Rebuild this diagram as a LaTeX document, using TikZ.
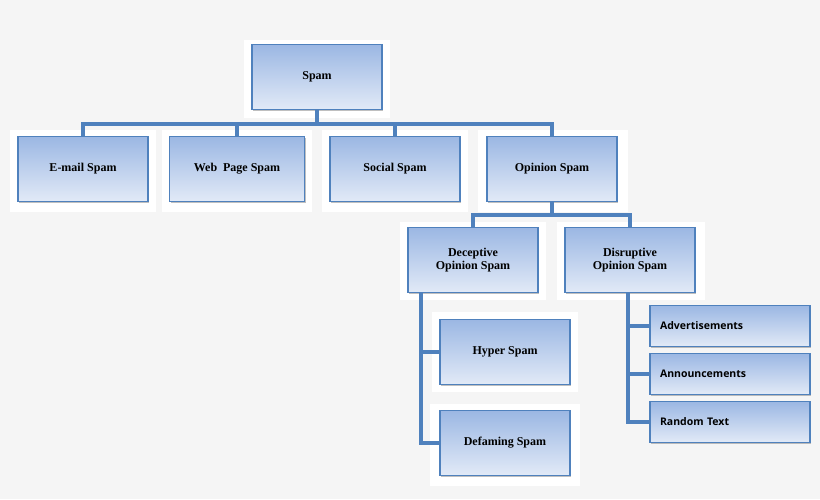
\documentclass[tikz,border=0pt]{standalone}
\usepackage{fontspec}
\setmainfont{Liberation Serif}
\newfontfamily\boxsans{Open Sans}
\usetikzlibrary{shadows}
\definecolor{bg}{HTML}{F5F5F5}
\definecolor{edge}{HTML}{4F81BD}
\definecolor{topc}{HTML}{9BB7E3}
\definecolor{botc}{HTML}{E2EAF7}
\begin{document}
\begin{tikzpicture}[x=1pt,y=-1pt,
  box/.style={draw=edge,line width=1.6pt,top color=topc,bottom color=botc,
    minimum width=130pt,minimum height=65pt,align=center,font=\bfseries\fontsize{12}{13}\selectfont,
    drop shadow={shadow xshift=1pt,shadow yshift=-1.5pt,opacity=0.5}},
  sbox/.style={box,minimum width=160pt,minimum height=41pt,text width=140pt,align=left,font=\boxsans\bfseries\fontsize{10.5}{12}\selectfont},
  wbg/.style={fill=white,draw=none},
  con/.style={draw=edge,line width=3.5pt}]
\fill[bg] (0,0) rectangle (820,499);
\useasboundingbox (0,0) rectangle (820,499);
% white backgrounds
\foreach \a/\b/\c/\d in {244/40/390/118, 10/130/156/212, 162/130/312/212, 322/130/468/212, 478/130/628/212,
  400/222/546/300, 557/222/705/300, 432/312/578/392, 430/404/580/486}
  \fill[white] (\a,\b) rectangle (\c,\d);
\node[box] (spam) at (317,77) {Spam};
\node[box] (email) at (83,169) {E-mail Spam};
\node[box,minimum width=135pt] (web) at (237,169) {Web\ \ Page Spam};
\node[box] (social) at (395,169) {Social Spam};
\node[box] (opinion) at (552,169) {Opinion Spam};
\node[box] (dec) at (473,260) {Deceptive\\Opinion Spam};
\node[box] (dis) at (630,260) {Disruptive\\Opinion Spam};
\node[box] (hyper) at (505,352) {Hyper Spam};
\node[box] (def) at (505,443) {Defaming Spam};
\node[sbox] (adv) at (730,326) {Advertisements};
\node[sbox] (ann) at (730,374) {Announcements};
\node[sbox] (rnd) at (730,422) {Random Text};
\coordinate (b1) at (317,124);
\coordinate (b2) at (552,215);
\begin{scope}[on background layer/.style={}]
\draw[con] (spam.south) -- (b1);
\draw[con,line cap=rect] (email.north) |- (b1) -| (opinion.north);
\draw[con] (web.north) -- (web.north |- b1);
\draw[con] (social.north) -- (social.north |- b1);
\draw[con] (opinion.south) -- (b2);
\draw[con,line cap=rect] (dec.north) |- (b2) -| (dis.north);
\draw[con] (421,293) |- (hyper.west);
\draw[con] (421,293) |- (def.west);
\draw[con] (628,293) |- (adv.west);
\draw[con] (628,293) |- (ann.west);
\draw[con] (628,293) |- (rnd.west);
\end{scope}
\end{tikzpicture}
\end{document}
